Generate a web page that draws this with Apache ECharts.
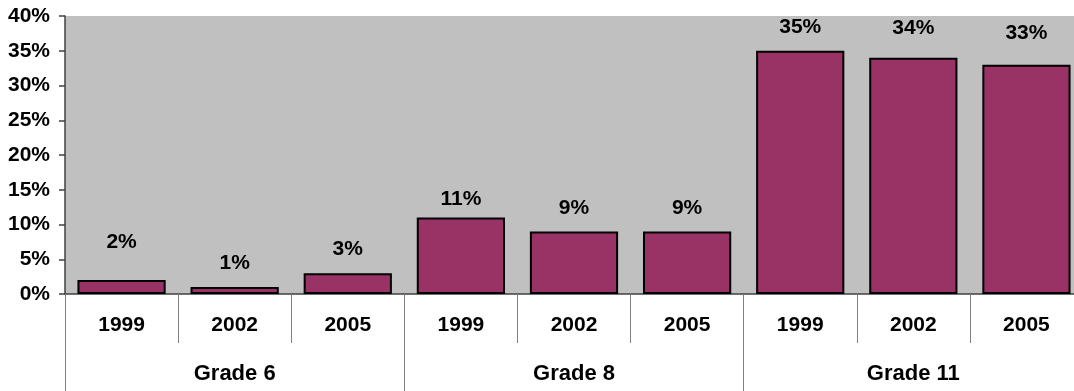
<!DOCTYPE html>
<html>
<head>
<meta charset="utf-8">
<script src="https://cdn.jsdelivr.net/npm/echarts@6/dist/echarts.min.js"></script>
<style>
  html, body { margin: 0; padding: 0; background: #ffffff; }
  #chart { width: 1074px; height: 391px; }
</style>
</head>
<body>
<div id="chart"></div>
<script>
// Survey years, repeated within each grade group
var years = ['1999', '2002', '2005', '1999', '2002', '2005', '1999', '2002', '2005'];
// Grade groups spanning three years each
var grades = ['Grade 6', 'Grade 8', 'Grade 11'];
// Percentage for each grade/year bar
var values = [2, 1, 3, 11, 9, 9, 35, 34, 33];
// Y axis range and step (percent)
var yMin = 0, yMax = 40, yStep = 5;

// Gap between each bar top and its value label (px)
var labelGap = [27, 13, 13, 8, 13, 13, 13, 19, 21];

var font = '"Liberation Sans", Arial, sans-serif';
var chart = echarts.init(document.getElementById('chart'), null, { renderer: 'canvas' });

chart.setOption({
  animation: false,
  grid: {
    left: 65, top: 16, bottom: 97, width: 1018,
    outerBoundsMode: 'none',
    containLabel: false,
    show: true, backgroundColor: '#C0C0C0', borderWidth: 0
  },
  xAxis: [
    {
      type: 'category',
      data: years,
      position: 'bottom',
      axisLine: { show: true, lineStyle: { color: '#404040', width: 1.5 } },
      axisTick: { show: true, interval: 0, length: 49, lineStyle: { color: '#808080', width: 1 } },
      axisLabel: {
        interval: 0, margin: 21,
        fontFamily: font, fontSize: 21, fontWeight: 'bold', color: '#000000'
      }
    },
    {
      type: 'category',
      data: grades,
      position: 'bottom',
      axisLine: { show: false },
      axisTick: { show: true, interval: 0, length: 100, lineStyle: { color: '#808080', width: 1 } },
      axisLabel: {
        interval: 0, margin: 69,
        fontFamily: font, fontSize: 22, fontWeight: 'bold', color: '#000000'
      }
    }
  ],
  yAxis: {
    type: 'value',
    min: yMin, max: yMax, interval: yStep,
    axisLine: { show: true, lineStyle: { color: '#404040', width: 1.5 } },
    axisTick: { show: true, inside: false, length: 6, lineStyle: { color: '#404040', width: 1.5 } },
    splitLine: { show: false },
    axisLabel: {
      margin: 15,
      formatter: '{value}%',
      fontFamily: font, fontSize: 21, fontWeight: 'bold', color: '#000000'
    }
  },
  series: [{
    type: 'bar',
    xAxisIndex: 0,
    barCategoryGap: '22%',
    data: values.map(function (v, i) {
      return { value: v, label: { distance: labelGap[i] } };
    }),
    itemStyle: { color: '#993366', borderColor: '#000000', borderWidth: 2 },
    label: {
      show: true, position: 'top',
      formatter: '{c}%',
      fontFamily: font, fontSize: 21, fontWeight: 'bold', color: '#000000'
    }
  }]
});
</script>
</body>
</html>
